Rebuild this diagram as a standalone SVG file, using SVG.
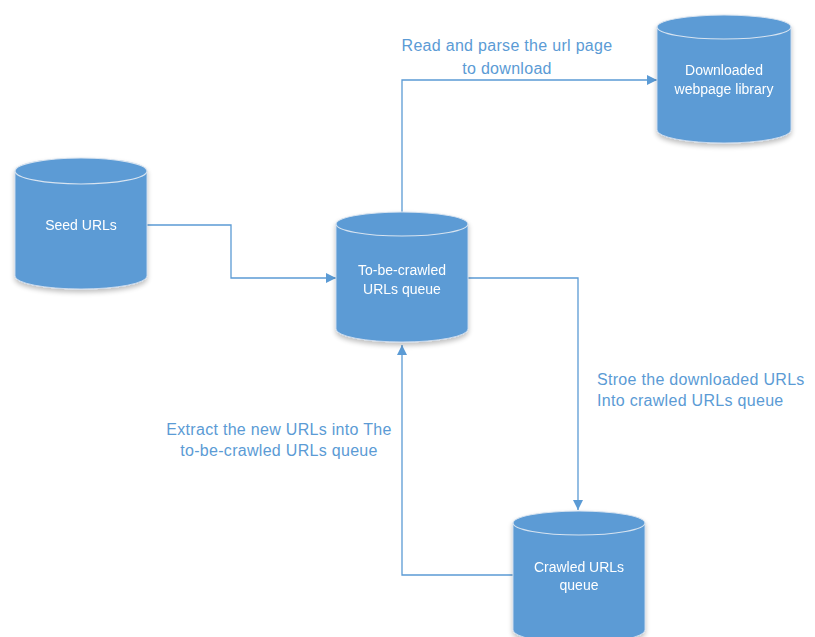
<svg xmlns="http://www.w3.org/2000/svg" width="815" height="637" viewBox="0 0 815 637">
<defs>
<style>
.body{fill:#5B9BD5;stroke:#C9D9EC;stroke-width:1}
.top{fill:#5B9BD5;stroke:#D7E3F0;stroke-width:1.2}
.nt{font-family:"Liberation Sans",Arial,sans-serif;font-size:14px;fill:#FFFFFF;text-anchor:middle}
.lb{font-family:"Liberation Sans",Arial,sans-serif;font-size:16px;letter-spacing:0.3px;fill:#5B9BD5}
.c{fill:none;stroke:#5B9BD5;stroke-width:1.3}
</style>
<marker id="ah" viewBox="0 0 10 10" refX="10" refY="5" markerWidth="10" markerHeight="10" markerUnits="userSpaceOnUse" orient="auto">
<path d="M0,0 L10,5 L0,10 z" fill="#5B9BD5"/>
</marker>
<filter id="sh" x="-20%" y="-20%" width="140%" height="140%">
<feGaussianBlur in="SourceAlpha" stdDeviation="2.5"/>
<feOffset dy="3"/>
<feComponentTransfer><feFuncA type="linear" slope="0.25"/></feComponentTransfer>
<feMerge><feMergeNode/><feMergeNode in="SourceGraphic"/></feMerge>
</filter>
</defs>
<rect width="815" height="637" fill="#FFFFFF"/>
<g id="connectors">
<path class="c" d="M147,225 H231 V278 H336" marker-end="url(#ah)"/>
<path class="c" d="M402,212 V80 H657" marker-end="url(#ah)"/>
<path class="c" d="M468,278 H578 V510" marker-end="url(#ah)"/>
<path class="c" d="M513,575 H402 V345" marker-end="url(#ah)"/>
</g>
<g id="seed" filter="url(#sh)">
<path class="body" d="M15,171 V276 A66,13 0 0 0 147,276 V171"/>
<ellipse class="top" cx="81" cy="171" rx="66" ry="13"/>
<text class="nt" x="81" y="230">Seed URLs</text>
</g>
<g id="tobecrawled" filter="url(#sh)">
<path class="body" d="M336,224 V329 A66,13 0 0 0 468,329 V224"/>
<ellipse class="top" cx="402" cy="224" rx="66" ry="12"/>
<text class="nt" x="402" y="275">To-be-crawled</text>
<text class="nt" x="402" y="294">URLs queue</text>
</g>
<g id="downloaded" filter="url(#sh)">
<path class="body" d="M657,27 V130 A67,13 0 0 0 791,130 V27"/>
<ellipse class="top" cx="724" cy="27" rx="67" ry="12"/>
<text class="nt" x="724" y="75">Downloaded</text>
<text class="nt" x="724" y="94">webpage library</text>
</g>
<g id="crawled" filter="url(#sh)">
<path class="body" d="M513,523 V630 A66,13 0 0 0 645,630 V523"/>
<ellipse class="top" cx="579" cy="523" rx="66" ry="12"/>
<text class="nt" x="579" y="572">Crawled URLs</text>
<text class="nt" x="579" y="590">queue</text>
</g>
<g id="labels">
<text class="lb" x="507" y="51" text-anchor="middle">Read and parse the url page</text>
<text class="lb" x="507" y="74" text-anchor="middle">to download</text>
<text class="lb" x="597" y="385">Stroe the downloaded URLs</text>
<text class="lb" x="597" y="406">Into crawled URLs queue</text>
<text class="lb" x="279" y="435" text-anchor="middle">Extract the new URLs into The</text>
<text class="lb" x="279" y="456" text-anchor="middle">to-be-crawled URLs queue</text>
</g>
</svg>
